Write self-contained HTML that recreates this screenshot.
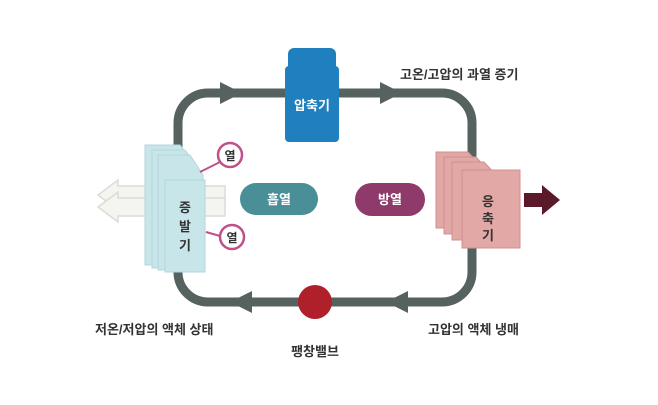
<!DOCTYPE html>
<html><head><meta charset="utf-8"><style>
body{margin:0;background:#fff;}
svg text{font-family:"Liberation Sans","Noto Sans CJK KR",sans-serif;font-weight:bold;}
</style></head><body>
<svg width="658" height="400" viewBox="0 0 658 400" xmlns="http://www.w3.org/2000/svg">
<rect width="658" height="400" fill="#fff"/>
<!-- loop -->
<rect x="178" y="93" width="294" height="209" rx="30" fill="none" stroke="#566260" stroke-width="9"/>
<!-- loop arrows -->
<polygon points="220,82 242,93 220,104" fill="#566260"/>
<polygon points="380,82 402,93 380,104" fill="#566260"/>
<polygon points="408,291 386,302 408,313" fill="#566260"/>
<polygon points="252,291 230,302 252,313" fill="#566260"/>
<!-- evaporator white arrows -->
<g fill="#f4f4f0" stroke="#dcdcd6" stroke-width="1.5">
<polygon points="225,186 118,186 118,180 98,195 118,210 118,204 225,204"/>
<polygon points="225,198 118,198 118,192 98,207 118,222 118,216 225,216"/>
</g>
<!-- evaporator cards -->
<g fill="#c8e6ea" stroke="#b2d6dc" stroke-width="1">
<polygon points="145,145 180,145 195,165 195,265 145,265"/>
<polygon points="152,150 185,150 199,170 199,268 152,268"/>
<polygon points="158,155 190,155 203,175 203,270 158,270"/>
<rect x="165" y="180" width="40" height="92"/>
</g>
<text x="185" y="212" font-size="13" text-anchor="middle" fill="#333">증</text>
<text x="185" y="231" font-size="13" text-anchor="middle" fill="#333">발</text>
<text x="185" y="250" font-size="13" text-anchor="middle" fill="#333">기</text>
<!-- heat circles -->
<line x1="200" y1="172" x2="220" y2="162" stroke="#c0508a" stroke-width="2"/>
<line x1="206" y1="232" x2="220" y2="236" stroke="#c0508a" stroke-width="2"/>
<circle cx="230" cy="155" r="12" fill="#fff" stroke="#c0508a" stroke-width="2.5"/>
<circle cx="232" cy="237" r="12" fill="#fff" stroke="#c0508a" stroke-width="2.5"/>
<text x="230" y="160" font-size="12" text-anchor="middle" fill="#333">열</text>
<text x="232" y="242" font-size="12" text-anchor="middle" fill="#333">열</text>
<!-- pills -->
<rect x="240" y="183" width="78" height="32" rx="16" fill="#4a8f98"/>
<text x="279" y="204" font-size="13" text-anchor="middle" fill="#fff">흡열</text>
<rect x="355" y="183" width="70" height="33" rx="16.5" fill="#8e3a6a"/>
<text x="390" y="204" font-size="13" text-anchor="middle" fill="#fff">방열</text>
<!-- compressor -->
<rect x="288" y="48" width="48" height="24" rx="6" fill="#1f7fbf"/>
<rect x="285" y="66" width="54" height="76" rx="4" fill="#1f7fbf"/>
<text x="312" y="110" font-size="13" text-anchor="middle" fill="#fff">압축기</text>
<!-- condenser -->
<g fill="#e2a8a6" stroke="#d09090" stroke-width="1">
<polygon points="436,152 468,152 480,165 480,228 436,228"/>
<polygon points="444,157 476,157 488,170 488,234 444,234"/>
<polygon points="452,162 484,162 496,175 496,240 452,240"/>
<rect x="462" y="170" width="58" height="78"/>
</g>
<text x="488" y="206" font-size="13" text-anchor="middle" fill="#333">응</text>
<text x="488" y="223" font-size="13" text-anchor="middle" fill="#333">축</text>
<text x="488" y="240" font-size="13" text-anchor="middle" fill="#333">기</text>
<polygon points="524,193 542,193 542,185 560,200 542,215 542,207 524,207" fill="#5a1a2a"/>
<!-- valve -->
<circle cx="315" cy="302" r="17" fill="#b0202a"/>
<!-- labels -->
<text x="400" y="79" font-size="13" fill="#333">고온/고압의 과열 증기</text>
<text x="95" y="334" font-size="13" fill="#333">저온/저압의 액체 상태</text>
<text x="315" y="356" font-size="13" text-anchor="middle" fill="#333">팽창밸브</text>
<text x="428" y="334" font-size="13" fill="#333">고압의 액체 냉매</text>
</svg>
</body></html>
